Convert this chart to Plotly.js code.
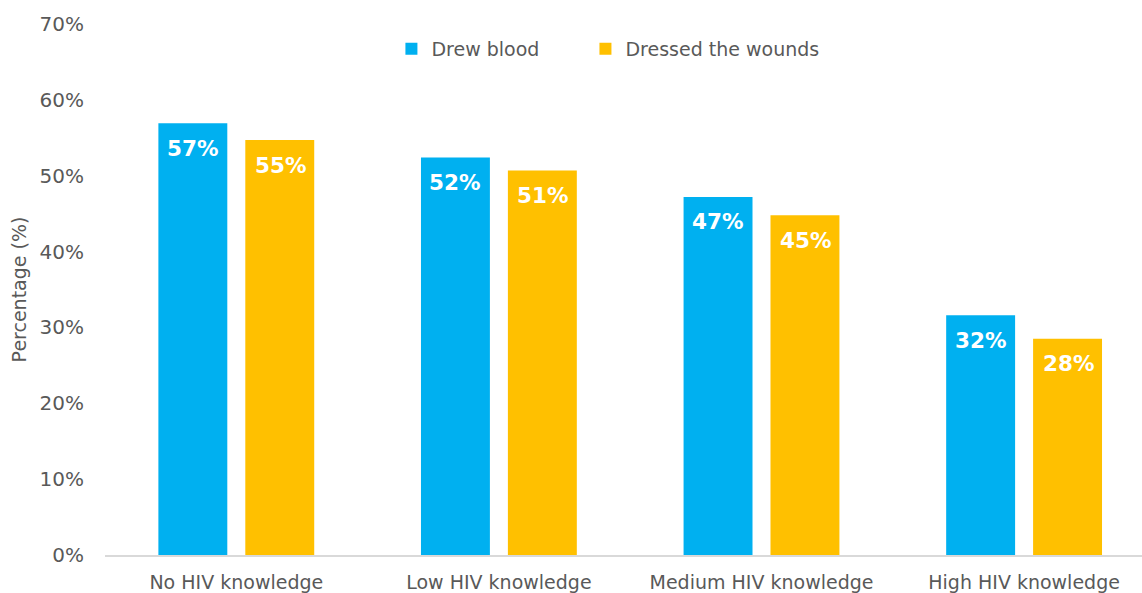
<!DOCTYPE html>
<html>
<head>
<meta charset="utf-8">
<script src="https://cdn.plot.ly/plotly-3.0.1.min.js"></script>
<style>html,body{margin:0;padding:0;background:#fff;}#chart{width:1142px;height:593px;}</style>
</head>
<body>
<div id="chart"></div>
<script>
const categories = ["No HIV knowledge", "Low HIV knowledge", "Medium HIV knowledge", "High HIV knowledge"];
const drewBlood = [56.9, 52.4, 47.2, 31.6];
const dressedWounds = [54.7, 50.7, 44.8, 28.5];
const drewBloodLabels = ["57%", "52%", "47%", "32%"];
const dressedWoundsLabels = ["55%", "51%", "45%", "28%"];
const yTickVals = [0, 10, 20, 30, 40, 50, 60, 70];
const yTickText = ["0%", "10%", "20%", "30%", "40%", "50%", "60%", "70%"];

const FONT = "Tahoma, Verdana, 'DejaVu Sans', sans-serif";
const GREY = "#595959";
const BLUE = "#00B0F0";
const ORANGE = "#FFC000";

const traces = [
  {type: "bar", name: "Drew blood", x: categories, y: drewBlood, marker: {color: BLUE}, hoverinfo: "none", legend: "legend"},
  {type: "bar", name: "Dressed the wounds", x: categories, y: dressedWounds, marker: {color: ORANGE}, hoverinfo: "none", legend: "legend2"}
];

const annotations = [];
categories.forEach((c, i) => {
  annotations.push({x: c, y: drewBlood[i], xref: "x", yref: "y", text: "<b>" + drewBloodLabels[i] + "</b>",
    showarrow: false, xshift: -44, yshift: -25, yanchor: "middle", font: {family: FONT, size: 21.5, color: "#ffffff"}});
  annotations.push({x: c, y: dressedWounds[i], xref: "x", yref: "y", text: "<b>" + dressedWoundsLabels[i] + "</b>",
    showarrow: false, xshift: 44, yshift: -25, yanchor: "middle", font: {family: FONT, size: 21.5, color: "#ffffff"}});
});

const legendFont = {family: FONT, size: 19, color: GREY};

const layout = {
  width: 1142, height: 593,
  margin: {l: 105, r: 0, t: 24, b: 38},
  paper_bgcolor: "#ffffff", plot_bgcolor: "#ffffff",
  font: {family: FONT, color: GREY, size: 19},
  barmode: "group", bargap: 0.338, bargroupgap: 0.207,
  showlegend: true,
  legend: {orientation: "h", x: 0.2762, xanchor: "left", y: 0.953, yanchor: "middle", font: legendFont, bgcolor: "rgba(0,0,0,0)"},
  legend2: {orientation: "h", x: 0.4633, xanchor: "left", y: 0.953, yanchor: "middle", font: legendFont, bgcolor: "rgba(0,0,0,0)"},
  xaxis: {type: "category", range: [-0.5, 3.449], showgrid: false, zeroline: false, showline: true, linecolor: "#d9d9d9", linewidth: 1.5,
    ticks: "", ticklabelstandoff: 10, tickfont: {family: FONT, size: 19, color: GREY}, fixedrange: true},
  yaxis: {range: [0, 70], tickvals: yTickVals, ticktext: yTickText, showgrid: false, zeroline: false, showline: false,
    ticks: "", ticklabelstandoff: 20, tickfont: {family: FONT, size: 20, color: GREY},
    title: {text: "Percentage (%)", font: {family: FONT, size: 19, color: GREY}, standoff: 7}, fixedrange: true},
  annotations: annotations
};

Plotly.newPlot("chart", traces, layout, {displayModeBar: false, staticPlot: true});
</script>
</body>
</html>
